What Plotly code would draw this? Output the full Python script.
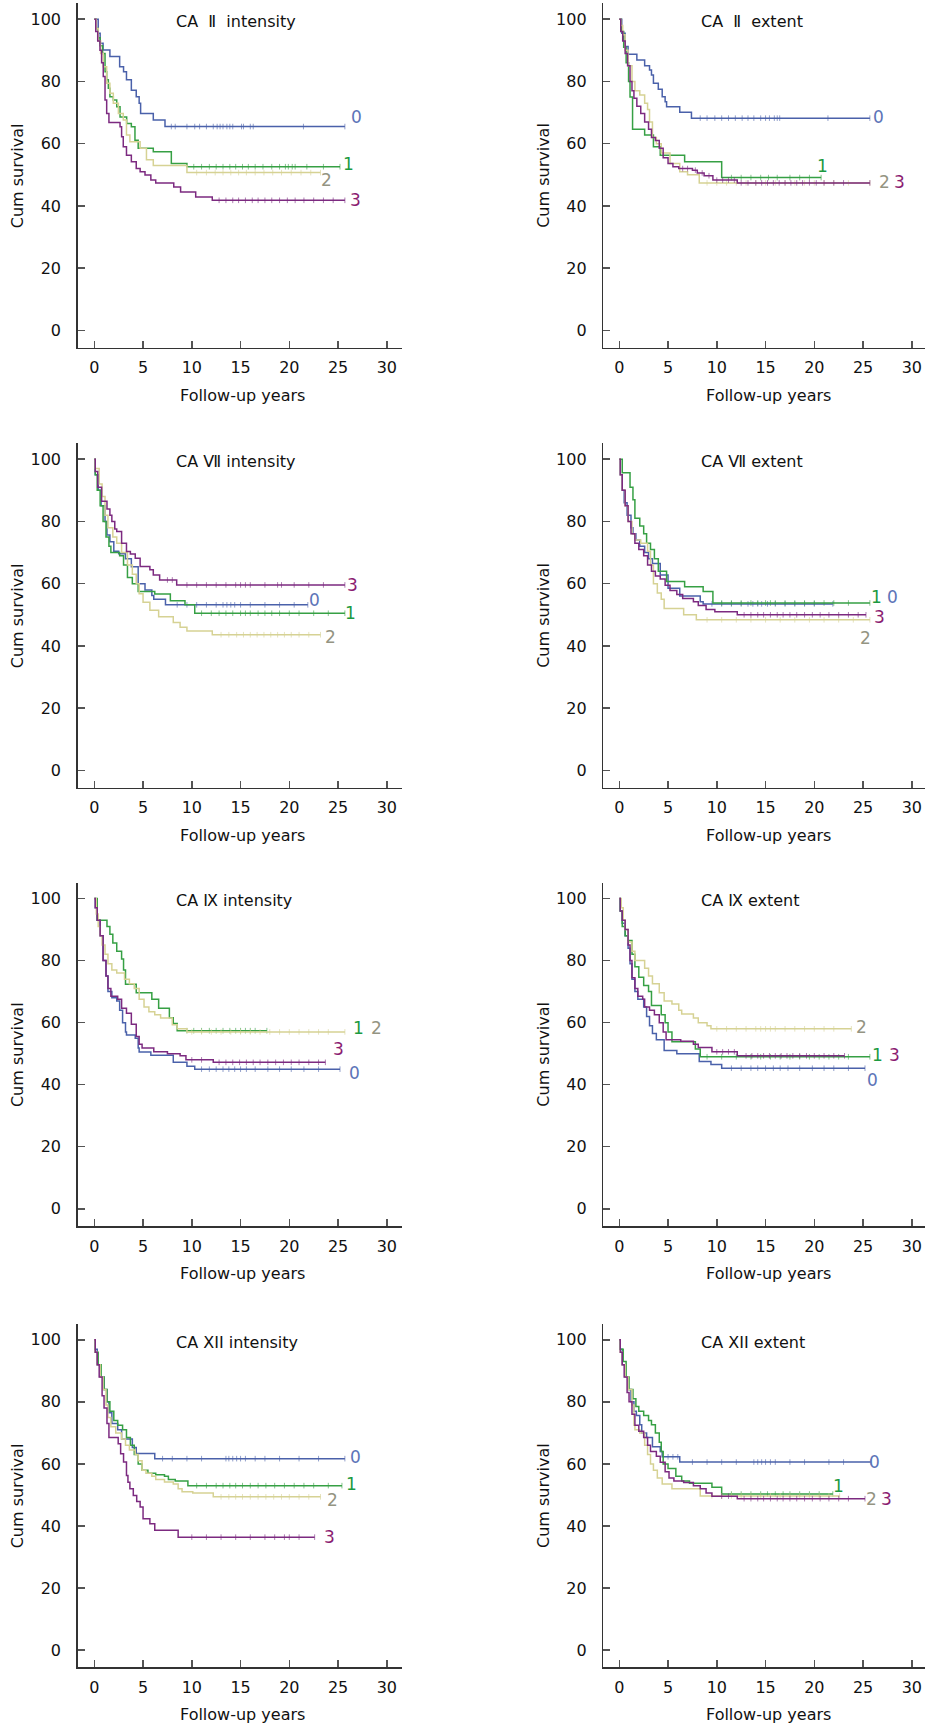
import plotly.graph_objects as go

# ---------------- DATA ----------------
panel_titles = ["CA \u00a0Ⅱ\u00a0 intensity", "CA \u00a0Ⅱ\u00a0 extent",
                "CA Ⅶ intensity", "CA Ⅶ extent",
                "CA Ⅸ intensity", "CA Ⅸ extent",
                "CA XII intensity", "CA XII extent"]
groups = ["0", "1", "2", "3"]
x_ticks = [0, 5, 10, 15, 20, 25, 30]
y_ticks = [0, 20, 40, 60, 80, 100]

# Panel 1: CA II intensity  (time in years, cumulative survival %)
ca2_int_time = [
    [0, 0.4, 0.6, 0.9, 1.6, 2.6, 3.0, 3.3, 3.8, 4.3, 4.6, 4.75, 6.05, 7.25, 25.7],
    [0, 0.2, 0.4, 0.6, 0.85, 1.1, 1.27, 1.44, 1.6, 1.95, 2.3, 2.64, 3.32, 3.8, 4.17, 4.5, 6.05, 7.9, 9.5, 25.2],
    [0, 0.2, 0.4, 0.65, 0.92, 1.27, 1.6, 1.95, 2.47, 2.97, 3.3, 3.65, 4.7, 5.35, 6.05, 9.5, 23.2],
    [0, 0.15, 0.35, 0.58, 0.75, 0.92, 1.1, 1.27, 1.5, 2.64, 2.8, 2.97, 3.3, 3.8, 4.3, 4.7, 5.2, 5.8, 6.3, 8.15, 8.85, 10.4, 12.1, 25.7]]
ca2_int_surv = [
    [100, 95.5, 92.3, 90.1, 88, 84.7, 83.1, 80.5, 77.2, 75.1, 73, 69.7, 67.6, 65.5, 65.5],
    [100, 97, 94, 91.5, 89, 83.1, 80.5, 77.8, 75.1, 74, 71.9, 68.6, 66.5, 65.4, 61.1, 58.5, 57.4, 53.6, 52.6, 52.6],
    [100, 97, 93, 89, 84.7, 79.4, 76.2, 73, 69.7, 67.6, 62.8, 60.6, 58.5, 54.8, 53, 50.7, 50.7],
    [100, 96, 93, 90, 86, 81.6, 74, 69.7, 66.8, 65.4, 62.2, 59, 56.3, 54.2, 52, 51, 49.9, 48.3, 47.4, 46.1, 44.5, 42.9, 41.8, 41.8]]
ca2_int_cens = [
    [7.9, 8.3, 9.5, 10.3, 10.8, 11.5, 12.2, 12.6, 12.9, 13.2, 13.6, 13.9, 14.2, 15.1, 15.3, 16.0, 16.3, 21.45, 25.7],
    [10.2, 11, 11.8, 12.5, 13.2, 13.9, 14.5, 15.2, 15.8, 16.5, 17.3, 18.2, 19.0, 19.6, 19.9, 20.3, 20.6, 21.8, 23.5, 25.2],
    [10.5, 11.5, 12.4, 13.2, 14.0, 14.8, 15.6, 16.5, 17.4, 18.3, 19.2, 20.2, 21.2, 22.2, 23.2],
    [12.8, 13.5, 14.2, 14.8, 15.5, 16.2, 16.8, 17.5, 18.2, 19.0, 19.8, 20.6, 21.5, 22.5, 23.5, 24.5, 25.7]]

# Panel 2: CA II extent
ca2_ext_time = [
    [0, 0.25, 0.6, 0.9, 1.8, 2.6, 3.1, 3.3, 3.5, 4.0, 4.4, 4.7, 4.85, 6.2, 7.4, 25.7],
    [0, 0.2, 0.45, 0.7, 0.95, 1.1, 1.36, 2.6, 3.5, 4.2, 6.7, 10.5, 20.7],
    [0, 0.15, 0.35, 0.6, 0.9, 1.3, 1.6, 2.1, 2.6, 2.9, 3.1, 3.4, 3.8, 4.3, 5.2, 6.2, 7.0, 8.2, 25.7],
    [0, 0.15, 0.35, 0.6, 0.85, 1.1, 1.3, 1.5, 1.8, 2.2, 2.6, 3.0, 3.3, 3.7, 4.1, 4.5, 5.0, 5.5, 6.1, 7.5, 8.0, 8.7, 9.6, 12.1, 25.7]]
ca2_ext_surv = [
    [100, 95.5, 91.2, 88.7, 86.9, 85, 83.7, 82.1, 79.4, 77.5, 75.1, 73.5, 71.9, 70.1, 68.2, 68.2],
    [100, 96, 91, 86, 80, 75, 64.6, 62.8, 59, 56.3, 54.2, 49.1, 49.1],
    [100, 98, 95, 90, 85, 80, 77, 75.6, 73, 71, 67, 62, 60, 57, 53.6, 51, 50, 47.4, 47.4],
    [100, 96, 93, 89, 85, 80, 77, 74.6, 72, 69.7, 67, 64.6, 62, 61, 58.5, 55.5, 53.6, 52.6, 52, 51.5, 50.6, 49.7, 48.3, 47.4, 47.4]]
ca2_ext_cens = [
    [8.3, 9.0, 9.8, 10.5, 11.2, 11.9, 12.6, 13.2, 13.8, 14.5, 15.0, 15.4, 15.9, 16.2, 16.45, 21.4, 25.7],
    [11.5, 12.5, 13.5, 14.5, 15.3, 16.2, 17.5, 18.5, 19.5, 20.7],
    [9, 10, 11, 12, 13, 14, 15, 16, 17, 18, 19, 20, 21, 22, 23.5, 25.7],
    [6.5, 7.0, 7.8, 8.5, 9.2, 10, 10.6, 11.2, 11.8, 12.5, 13.2, 14, 14.6, 15.2, 15.8, 16.4, 17, 17.6, 18.2, 18.8, 19.5, 20.2, 21, 22, 23, 25.7]]

# Panel 3: CA VII intensity
ca7_int_time = [
    [0, 0.1, 0.4, 0.7, 1.1, 1.3, 1.6, 2.0, 2.5, 3.2, 3.8, 4.5, 5.2, 5.9, 6.1, 7.3, 21.9],
    [0, 0.1, 0.3, 0.6, 0.9, 1.2, 1.5, 1.7, 2.6, 3.0, 3.4, 3.9, 4.5, 6.2, 7.8, 9.3, 10.3, 25.7],
    [0, 0.1, 0.5, 0.8, 1.1, 1.4, 1.9, 2.3, 2.8, 3.4, 3.9, 4.3, 4.6, 5.0, 5.7, 6.6, 8.1, 8.8, 9.5, 12.1, 23.2],
    [0, 0.1, 0.35, 0.75, 1.3, 1.6, 1.8, 2.1, 2.3, 2.8, 3.3, 3.7, 4.2, 4.7, 5.7, 6.05, 6.7, 8.45, 25.7]]
ca7_int_surv = [
    [100, 95, 90, 85, 80, 75.6, 73.5, 70.4, 69.6, 68, 65.4, 60, 58, 56.2, 55, 53.2, 53.2],
    [100, 95, 90, 85, 80, 75, 72, 70, 69, 66, 62, 60, 57.5, 56.7, 54.5, 53.2, 50.5, 50.5],
    [100, 97, 92, 88, 82, 78, 75, 73, 70, 66, 63, 60, 56.8, 54, 51.5, 49.4, 47.5, 46, 44.8, 43.6, 43.6],
    [100, 96, 91, 86.5, 84, 82, 80, 77.6, 76.8, 73, 70.3, 69.5, 68.2, 65.5, 64.5, 62.8, 61.2, 59.6, 59.6]]
ca7_int_cens = [
    [8.5, 9.5, 10.5, 11.5, 12.5, 13.2, 13.6, 14.0, 14.4, 15.0, 16.0, 17.5, 19.0, 20.5, 21.9],
    [11, 12, 12.8, 13.5, 14.2, 15, 15.5, 16, 16.8, 17.5, 18.2, 19, 20, 21, 22.5, 24, 25.7],
    [13, 13.8, 14.6, 15.3, 16, 16.7, 17.4, 18.1, 18.8, 19.5, 20.2, 21, 22, 23.2],
    [7.5, 8.0, 9.5, 10.5, 11.5, 12.5, 13.5, 14.5, 15.0, 15.5, 16.0, 17.5, 18.8, 19.2, 20.5, 22.0, 23.5, 25.7]]

# Panel 4: CA VII extent
ca7_ext_time = [
    [0, 0.1, 0.3, 0.5, 0.8, 1.2, 1.4, 1.7, 2.1, 2.6, 3.0, 3.4, 4.2, 5.0, 6.2, 8.3, 8.6, 21.9],
    [0, 0.3, 1.1, 1.4, 1.6, 2.1, 2.5, 2.8, 3.2, 3.6, 4.0, 4.85, 6.7, 8.6, 9.6, 25.7],
    [0, 0.1, 0.3, 0.6, 0.9, 1.3, 1.6, 2.2, 2.9, 3.2, 3.5, 3.9, 4.3, 4.6, 6.6, 7.9, 25.7],
    [0, 0.1, 0.3, 0.6, 0.9, 1.2, 1.6, 2.0, 2.5, 2.9, 3.3, 3.7, 4.2, 4.7, 5.2, 5.9, 6.5, 7.6, 8.1, 8.9, 9.8, 12.1, 25.3]]
ca7_ext_surv = [
    [100, 95, 90, 86, 82, 78, 76, 74, 72, 70, 68, 66.5, 62.8, 58.5, 56, 54.2, 53.5, 53.5],
    [100, 95.6, 91, 87, 81, 78.5, 76, 73, 71, 68, 64, 60.7, 59, 57.5, 53.8, 53.8],
    [100, 95, 90, 85, 80, 76, 74, 73, 70.4, 66, 60, 57, 55, 52, 50, 48.4, 48.4],
    [100, 95, 90, 85, 80, 76, 73, 71, 69, 66, 64, 62.5, 61.5, 59.5, 57.8, 56.5, 55.2, 54.2, 53, 51.7, 51, 50, 50]]
ca7_ext_cens = [
    [9.5, 10.5, 11.5, 12.5, 13.2, 13.7, 14.2, 14.6, 15.2, 16, 17, 18, 19, 20, 21.9],
    [10.5, 11.5, 12.5, 13.5, 14.2, 15, 15.5, 16, 17, 18, 19, 20, 21, 22, 23.5, 25.7],
    [9, 10.5, 12, 13.5, 15, 16.5, 18, 19.5, 21, 22.5, 24, 25.7],
    [12.8, 13.5, 14.2, 14.8, 15.5, 16.2, 16.8, 17.5, 18.2, 19, 19.8, 20.6, 21.5, 22.5, 23.5, 24.5, 25.3]]

# Panel 5: CA IX intensity
ca9_int_time = [
    [0, 0.1, 0.3, 0.6, 0.9, 1.2, 1.4, 1.8, 2.3, 2.6, 2.9, 3.2, 3.3, 4.2, 4.5, 4.6, 5.8, 8.1, 9.5, 10.3, 25.2],
    [0, 0.3, 1.3, 1.6, 1.9, 2.3, 2.8, 3.0, 3.2, 4.3, 5.9, 6.6, 7.7, 8.1, 8.5, 17.7],
    [0, 0.2, 0.4, 0.6, 0.8, 1.1, 1.4, 1.8, 2.3, 3.1, 3.6, 4.1, 4.6, 5.1, 5.6, 6.2, 6.8, 8.0, 8.5, 9.5, 25.7],
    [0, 0.1, 0.3, 0.6, 0.9, 1.2, 1.4, 1.7, 2.4, 2.8, 3.3, 3.8, 4.3, 4.6, 4.9, 6.1, 7.5, 8.8, 9.4, 12.2, 23.7]]
ca9_int_surv = [
    [100, 97, 93, 88, 80, 75, 70, 68, 67, 64, 60, 57, 56, 55, 51.8, 50.5, 49.5, 47.2, 45.9, 45, 45],
    [100, 93, 91, 88.5, 85.7, 83, 80.5, 77, 72.4, 69.6, 67.5, 64.6, 61.6, 59.7, 57.4, 57.4],
    [100, 95, 91, 88, 85, 82, 79, 77, 76, 74, 72.5, 71, 67.5, 65, 63.5, 62.5, 61.5, 59.3, 58, 57, 57],
    [100, 97, 93, 88, 80, 75, 71, 68.5, 67.5, 64.6, 63, 59.5, 55.5, 53, 51.8, 50.6, 50, 49.3, 48, 47.2, 47.2]]
ca9_int_cens = [
    [11, 11.8, 12.5, 13.2, 13.8, 14.4, 15, 15.6, 16.5, 17.8, 19, 20.2, 21.5, 23, 25.2],
    [9.5, 10.2, 11, 11.8, 12.5, 13.2, 13.9, 14.5, 15, 15.5, 16, 16.5, 17.7],
    [10, 11, 12, 13, 14, 15, 16, 17, 18, 19, 20, 21, 22, 23, 24, 25.7],
    [10, 11, 12.8, 13.5, 14.2, 14.9, 15.6, 16.3, 17, 17.8, 18.6, 19.4, 20.2, 21, 22, 23, 23.7]]

# Panel 6: CA IX extent
ca9_ext_time = [
    [0, 0.1, 0.3, 0.6, 0.9, 1.1, 1.3, 1.6, 1.9, 2.5, 2.8, 3.1, 3.4, 3.8, 4.6, 5.9, 8.2, 9.4, 10.5, 25.2],
    [0, 0.1, 0.3, 0.6, 0.9, 1.3, 1.6, 2.0, 2.5, 3.0, 3.3, 4.3, 4.7, 5.0, 5.4, 7.8, 8.3, 25.7],
    [0, 0.2, 0.4, 0.6, 0.9, 1.3, 1.6, 2.6, 3.0, 3.4, 4.1, 4.6, 5.4, 6.1, 6.4, 7.6, 8.1, 9.0, 9.4, 23.8],
    [0, 0.1, 0.3, 0.6, 0.9, 1.1, 1.3, 1.6, 1.9, 2.4, 2.6, 3.1, 3.6, 4.1, 4.5, 4.8, 6.3, 7.6, 8.1, 9.5, 12.1, 23.1]]
ca9_ext_surv = [
    [100, 96, 92, 88, 84, 79, 74, 70, 67.5, 65, 62, 59, 56.5, 54.5, 51, 50, 47.5, 46.5, 45.3, 45.3],
    [100, 96, 91, 88, 86.5, 82, 78, 74.6, 72, 70, 65.5, 62.5, 60, 57, 53.8, 51.5, 49, 49],
    [100, 97, 93, 90, 86, 83, 80, 77.5, 75, 72.5, 69.6, 67, 66, 64, 62.8, 61.5, 60, 59, 58, 58],
    [100, 96, 93, 90, 85, 80, 74.5, 71, 68.5, 67.5, 65, 64, 62.5, 60, 57, 54.5, 54, 53, 52, 50.6, 49.3, 49.3]]
ca9_ext_cens = [
    [11.5, 12.5, 13.5, 14.2, 15, 15.8, 16.5, 17.3, 18.5, 19.8, 21, 22, 23.5, 25.2],
    [9, 10.5, 12, 13.5, 14.5, 15.5, 16.5, 17.5, 18.5, 19.5, 20.5, 21.5, 22.5, 23.5, 25.7],
    [10, 11, 12, 13, 14, 14.5, 15, 15.5, 16, 17, 18, 19, 20, 21, 22, 23.8],
    [10, 10.6, 11.2, 11.8, 13, 13.6, 14.2, 14.8, 15.4, 16, 16.6, 17.2, 17.8, 18.5, 19.2, 20, 21, 22, 23.1]]

# Panel 7: CA XII intensity
ca12_int_time = [
    [0, 0.1, 0.3, 0.6, 1.0, 1.3, 1.5, 1.8, 2.4, 2.8, 3.9, 4.3, 6.2, 25.7],
    [0, 0.1, 0.4, 0.7, 1.0, 1.3, 1.6, 2.0, 2.4, 2.9, 3.3, 3.7, 4.1, 4.5, 4.9, 5.5, 6.3, 7.2, 7.6, 8.3, 9.6, 25.4],
    [0, 0.1, 0.3, 0.6, 0.9, 1.2, 1.4, 1.7, 2.2, 2.8, 3.2, 3.6, 4.2, 4.5, 4.9, 5.3, 5.9, 6.3, 7.2, 8.1, 8.6, 9.0, 10.1, 12.2, 23.2],
    [0, 0.1, 0.3, 0.5, 0.8, 1.0, 1.3, 1.5, 2.45, 2.7, 3.0, 3.3, 3.45, 3.65, 4.0, 4.35, 4.7, 5.0, 5.7, 6.2, 8.6, 22.6]]
ca12_int_surv = [
    [100, 97, 92, 88, 84, 80, 76.5, 73, 71, 68, 65.3, 63.4, 61.7, 61.7],
    [100, 96, 92, 88, 84, 80, 77, 74, 72.5, 71, 68.5, 66, 63, 60, 58, 57, 56.5, 56, 55, 54.5, 53, 53],
    [100, 96, 92, 88, 84, 79, 75, 72, 70, 68, 66, 64.5, 63, 61, 58, 57, 56, 55, 54.2, 53.5, 52, 51, 50.6, 49.4, 49.4],
    [100, 96, 92, 88, 82, 78, 73, 68.5, 66.5, 63.3, 60.6, 56.3, 54.1, 52, 49.8, 47.9, 46.1, 42.3, 40.7, 38.6, 36.4, 36.4]]
ca12_int_cens = [
    [7, 8, 9.5, 11, 13.5, 13.8, 14.2, 14.6, 15, 15.5, 16.5, 17.5, 19, 21, 23, 25.7],
    [10.5, 11.5, 12.5, 13.2, 13.9, 14.5, 15.2, 16, 16.8, 17.6, 18.5, 19.5, 20.5, 21.5, 22.5, 24, 25.4],
    [13, 13.8, 14.5, 15.2, 16, 16.8, 17.6, 18.4, 19.2, 20, 21, 22, 23.2],
    [10, 11.5, 13, 14.5, 16, 17.5, 18.5, 19.5, 20, 21, 22.6]]

# Panel 8: CA XII extent
ca12_ext_time = [
    [0, 0.1, 0.3, 0.6, 0.9, 1.2, 1.5, 1.75, 2.1, 2.3, 2.8, 3.4, 4.2, 4.4, 6.2, 25.8],
    [0, 0.1, 0.4, 0.7, 1.0, 1.4, 1.7, 2.0, 2.5, 3.0, 3.3, 3.7, 4.1, 4.3, 4.5, 5.0, 5.8, 6.4, 7.2, 9.5, 10.5, 21.9],
    [0, 0.1, 0.3, 0.6, 0.9, 1.3, 1.5, 1.6, 2.1, 2.6, 2.9, 3.2, 3.5, 3.9, 4.4, 5.4, 8.3, 22.6],
    [0, 0.1, 0.3, 0.5, 0.8, 1.0, 1.3, 1.6, 2.0, 2.5, 2.9, 3.2, 3.8, 4.2, 4.7, 5.1, 5.6, 6.6, 7.6, 8.3, 8.9, 9.5, 12.1, 25.2]]
ca12_ext_surv = [
    [100, 97, 92, 88, 84, 80, 77, 75.6, 72.6, 70, 68.5, 65.5, 64, 62.3, 60.6, 60.6],
    [100, 97, 93, 88, 84, 81, 78.5, 77, 75.6, 74, 72.6, 70, 67, 64, 60, 58.5, 56, 54.5, 53.8, 52.5, 50.3, 50.3],
    [100, 96, 92, 88, 84, 79, 72.5, 71, 70, 66, 63, 60, 58, 55.5, 53.5, 52, 49.7, 49.7],
    [100, 96, 92, 88, 83, 80, 76, 72.5, 70.5, 68.5, 66, 64, 62.5, 60.5, 57.5, 55.5, 54.5, 54, 53, 52, 50.6, 49.6, 48.8, 48.8]]
ca12_ext_cens = [
    [5, 5.5, 6, 7.5, 9, 10.5, 12, 13.8, 14.2, 14.6, 15, 15.5, 16, 17.5, 19, 21.5, 23, 25.8],
    [11.5, 12.5, 13.5, 14.5, 15.2, 16, 16.8, 17.5, 18.5, 19.5, 20.5, 21.9],
    [9.5, 10.5, 11.5, 12.5, 13.5, 14.5, 15.5, 16.5, 17.5, 18.5, 19.5, 20.5, 21.5, 22.6],
    [10.5, 11.2, 12.8, 13.5, 14.2, 14.8, 15.5, 16.2, 16.8, 17.5, 18.2, 19, 19.8, 20.6, 21.5, 22.5, 23.5, 25.2]]

# ---------------- STYLE / LAYOUT ----------------
W, H = 925, 1728
line_colors = ["#4a61aa", "#36a044", "#d6d294", "#7c2a80"]
label_colors = ["#5d74b8", "#1d9a40", "#949482", "#8b1d72"]
FONT = "DejaVu Sans"

panels = [
    (ca2_int_time, ca2_int_surv, ca2_int_cens),
    (ca2_ext_time, ca2_ext_surv, ca2_ext_cens),
    (ca7_int_time, ca7_int_surv, ca7_int_cens),
    (ca7_ext_time, ca7_ext_surv, ca7_ext_cens),
    (ca9_int_time, ca9_int_surv, ca9_int_cens),
    (ca9_ext_time, ca9_ext_surv, ca9_ext_cens),
    (ca12_int_time, ca12_int_surv, ca12_int_cens),
    (ca12_ext_time, ca12_ext_surv, ca12_ext_cens),
]

# group label anchor points (data units) for each panel, order groups 0..3
label_pos = [
    [(26.9, 68.5), (26.1, 53.6), (23.8, 48.3), (26.75, 41.8)],
    [(26.6, 68.5), (20.8, 52.9), (27.2, 47.7), (28.7, 47.7)],
    [(22.6, 54.6), (26.3, 50.7), (24.2, 42.8), (26.5, 59.6)],
    [(28.05, 55.6), (26.35, 55.6), (25.3, 42.6), (26.7, 49.3)],
    [(26.7, 43.9), (27.1, 58.4), (28.9, 58.4), (25.0, 51.4)],
    [(26.0, 41.6), (26.5, 49.6), (24.8, 58.5), (28.2, 49.6)],
    [(26.75, 62.1), (26.4, 53.5), (24.4, 48.4), (24.1, 36.4)],
    [(26.2, 60.5), (22.5, 52.8), (25.9, 48.8), (27.4, 48.8)],
]

# page-pixel geometry of the panels
row_top = [3.3, 443.3, 882.7, 1324.0]
row_bot = [347.7, 787.7, 1226.0, 1667.3]
col_left = [77.7, 603.3]
col_x0 = [94.3, 619.3]
px_per_x = 9.75
y_range = [-5.55, 105.1]


def fx(px):
    return px / W


def fy(py):
    return 1 - py / H


def step_value(times, survs, t):
    v = survs[0]
    for ti, si in zip(times, survs):
        if ti <= t:
            v = si
        else:
            break
    return v


fig = go.Figure()
annotations = []
layout_axes = {}

for i, (tlist, slist, clist) in enumerate(panels):
    r, c = divmod(i, 2)
    n = i + 1
    xa = "x" if n == 1 else f"x{n}"
    ya = "y" if n == 1 else f"y{n}"
    xname = "xaxis" if n == 1 else f"xaxis{n}"
    yname = "yaxis" if n == 1 else f"yaxis{n}"

    left = col_left[c]
    right = min(left + 324.0, W)
    xr = [(left - col_x0[c]) / px_per_x, (right - col_x0[c]) / px_per_x]
    T, B = row_top[r], row_bot[r]

    for g in range(4):
        t, s, cz = tlist[g], slist[g], clist[g]
        fig.add_trace(go.Scatter(
            x=t, y=s, mode="lines", line=dict(color=line_colors[g], width=1.5, shape="hv"),
            xaxis=xa, yaxis=ya, showlegend=False, hoverinfo="skip"))
        fig.add_trace(go.Scatter(
            x=cz, y=[step_value(t, s, v) for v in cz], mode="markers",
            marker=dict(symbol="line-ns", size=4, line=dict(color=line_colors[g], width=1)),
            opacity=0.6, xaxis=xa, yaxis=ya, showlegend=False, hoverinfo="skip"))
        lx, ly = label_pos[i][g]
        annotations.append(dict(
            x=lx, y=ly, xref=xa, yref=ya, text=groups[g], showarrow=False,
            font=dict(family=FONT, size=17, color=label_colors[g]),
            xanchor="center", yanchor="middle"))

    axis_common = dict(showline=True, linecolor="#333333", linewidth=1.5,
                       ticks="inside", ticklen=7, tickwidth=1.5, tickcolor="#555555",
                       showgrid=False, zeroline=False,
                       tickfont=dict(family=FONT, size=16, color="#111111"))
    layout_axes[xname] = dict(domain=[fx(left), min(fx(right), 1.0)], range=xr, anchor=ya,
                              tickvals=x_ticks, ticklabelstandoff=5, **axis_common)
    layout_axes[yname] = dict(domain=[fy(B), fy(T)], range=y_range, anchor=xa,
                              tickvals=y_ticks, ticklabelstandoff=12, **axis_common)

    # panel title
    annotations.append(dict(
        x=fx(left + 96), y=fy(T + 18), xref="paper", yref="paper",
        text=panel_titles[i], showarrow=False, xanchor="left", yanchor="middle",
        font=dict(family=FONT, size=16, color="#111111")))
    # y title
    annotations.append(dict(
        x=fx(left - 60), y=fy((T + B) / 2), xref="paper", yref="paper",
        text="Cum survival", showarrow=False, textangle=-90,
        xanchor="center", yanchor="middle",
        font=dict(family=FONT, size=16, color="#111111")))
    # x title
    annotations.append(dict(
        x=fx(left + 165), y=fy(B + 47.5), xref="paper", yref="paper",
        text="Follow-up years", showarrow=False, xanchor="center", yanchor="middle",
        font=dict(family=FONT, size=16, color="#111111")))

fig.update_layout(
    width=W, height=H, margin=dict(l=0, r=0, t=0, b=0),
    paper_bgcolor="white", plot_bgcolor="white", hovermode=False,
    annotations=annotations, **layout_axes)

# remove the default page margin so the figure sits at the page origin
fig.write_html("out.html", config={"displayModeBar": False, "staticPlot": True},
               post_script="document.body.style.margin='0px';document.body.style.overflow='hidden';")
